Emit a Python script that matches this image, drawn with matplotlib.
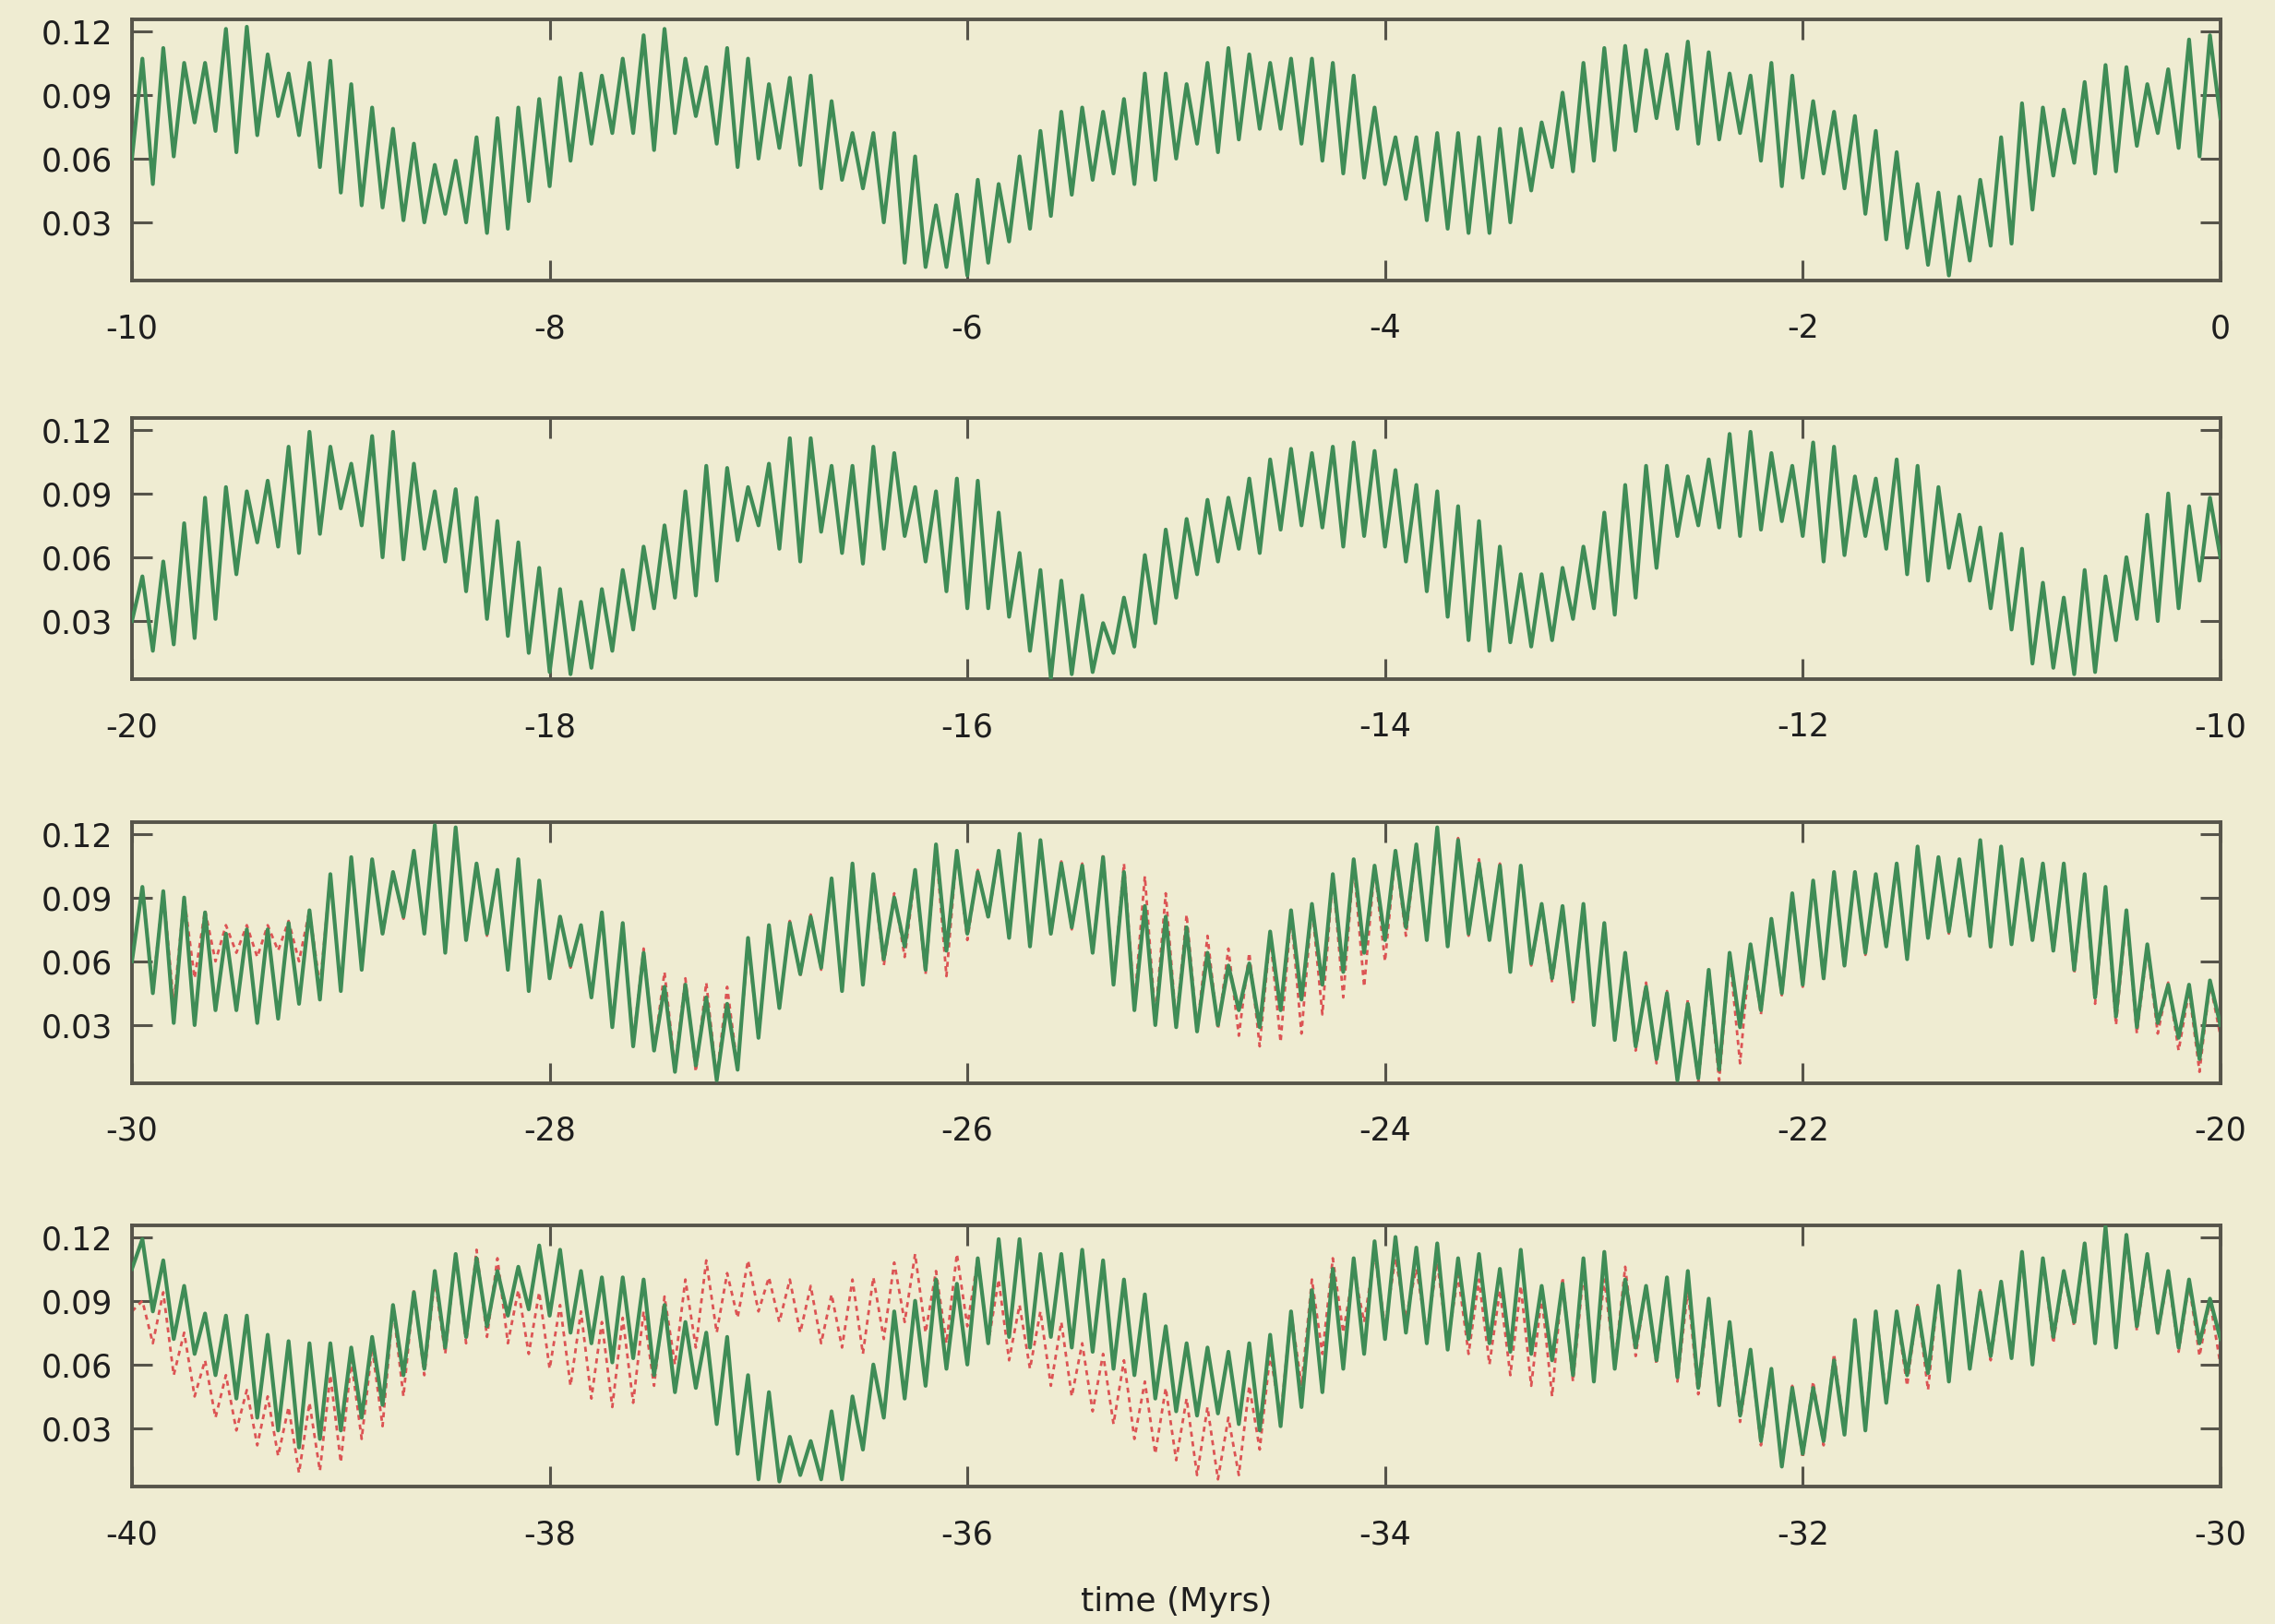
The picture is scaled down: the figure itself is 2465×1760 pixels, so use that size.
import numpy as np
import matplotlib
matplotlib.use("Agg")
import matplotlib.pyplot as plt
from matplotlib.ticker import MultipleLocator, FixedLocator, FormatStrFormatter

plt.rcParams["font.family"] = ["DejaVu Sans"]
plt.rcParams["axes.unicode_minus"] = False

# Each panel covers 10 Myr. Values are the successive maxima (every 0.1 Myr, offset 0.05)
# and minima (every 0.1 Myr) of the eccentricity curve.
panel_starts = [-10, -20, -30, -40]
x_ticks_step = 2
y_ticks = [0.03, 0.06, 0.09, 0.12]

# ---- panel 1: -10 .. 0 Myr ----
p1_peaks = [
    0.107, 0.112, 0.105, 0.105, 0.121, 0.122, 0.109, 0.100, 0.105, 0.106,
    0.095, 0.084, 0.074, 0.067, 0.057, 0.059, 0.070, 0.079, 0.084, 0.088,
    0.098, 0.100, 0.099, 0.107, 0.118, 0.121, 0.107, 0.103, 0.112, 0.107,
    0.095, 0.098, 0.099, 0.087, 0.072, 0.072, 0.072, 0.061, 0.038, 0.043,
    0.050, 0.048, 0.061, 0.073, 0.082, 0.084, 0.082, 0.088, 0.100, 0.100,
    0.095, 0.105, 0.112, 0.109, 0.105, 0.107, 0.107, 0.105, 0.099, 0.084,
    0.070, 0.070, 0.072, 0.072, 0.070, 0.074, 0.074, 0.077, 0.091, 0.105,
    0.112, 0.113, 0.111, 0.109, 0.115, 0.110, 0.100, 0.099, 0.105, 0.099,
    0.087, 0.082, 0.080, 0.073, 0.063, 0.048, 0.044, 0.042, 0.050, 0.070,
    0.086, 0.084, 0.083, 0.096, 0.104, 0.103, 0.095, 0.102, 0.116, 0.118,
]
p1_troughs = [
    0.060, 0.048, 0.061, 0.077, 0.073, 0.063, 0.071, 0.080, 0.071, 0.056,
    0.044, 0.038, 0.037, 0.031, 0.030, 0.034, 0.030, 0.025, 0.027, 0.040,
    0.047, 0.059, 0.067, 0.072, 0.072, 0.064, 0.072, 0.080, 0.067, 0.056,
    0.060, 0.065, 0.057, 0.046, 0.050, 0.046, 0.030, 0.011, 0.009, 0.009,
    0.005, 0.011, 0.021, 0.027, 0.033, 0.043, 0.050, 0.053, 0.048, 0.050,
    0.060, 0.067, 0.063, 0.069, 0.074, 0.074, 0.067, 0.059, 0.053, 0.051,
    0.048, 0.041, 0.031, 0.027, 0.025, 0.025, 0.030, 0.045, 0.056, 0.054,
    0.059, 0.064, 0.073, 0.079, 0.074, 0.067, 0.069, 0.072, 0.059, 0.047,
    0.051, 0.053, 0.046, 0.034, 0.022, 0.018, 0.010, 0.005, 0.012, 0.019,
    0.020, 0.036, 0.052, 0.058, 0.053, 0.054, 0.066, 0.072, 0.065, 0.061,
    0.079,
]

# ---- panel 2: -20 .. -10 Myr ----
p2_peaks = [
    0.051, 0.058, 0.076, 0.088, 0.093, 0.091, 0.096, 0.112, 0.119, 0.112,
    0.104, 0.117, 0.119, 0.104, 0.091, 0.092, 0.088, 0.077, 0.067, 0.055,
    0.045, 0.039, 0.045, 0.054, 0.065, 0.075, 0.091, 0.103, 0.102, 0.093,
    0.104, 0.116, 0.116,
    0.103, 0.103, 0.112, 0.109, 0.093, 0.091, 0.097, 0.096, 0.081, 0.062,
    0.054, 0.049, 0.042, 0.029, 0.041, 0.061, 0.073, 0.078, 0.087, 0.088,
    0.097, 0.106, 0.111, 0.109, 0.112, 0.114, 0.110, 0.101, 0.094, 0.091,
    0.084, 0.077, 0.065,
    0.052, 0.052, 0.055, 0.065, 0.081, 0.094, 0.103, 0.103, 0.098, 0.106,
    0.118, 0.119, 0.109, 0.103, 0.114, 0.112, 0.098, 0.097, 0.106, 0.103,
    0.093, 0.080, 0.074, 0.071, 0.064, 0.048, 0.041, 0.054, 0.051, 0.060,
    0.080, 0.090, 0.084, 0.088,
]
p2_troughs = [
    0.030, 0.016, 0.019, 0.022, 0.031, 0.052, 0.067, 0.065, 0.062, 0.071,
    0.083, 0.075, 0.060, 0.059, 0.064, 0.058, 0.044, 0.031, 0.023, 0.015,
    0.006, 0.005, 0.008, 0.016, 0.026, 0.036, 0.041, 0.042, 0.049, 0.068,
    0.075, 0.064, 0.058,
    0.072, 0.062, 0.057, 0.064, 0.070, 0.058, 0.044, 0.036, 0.036, 0.032,
    0.016, 0.003, 0.005, 0.006, 0.015, 0.018, 0.029, 0.041, 0.052, 0.058,
    0.064, 0.062, 0.073, 0.075, 0.074, 0.065, 0.070, 0.065, 0.058, 0.044,
    0.032, 0.021, 0.016, 0.020,
    0.018, 0.021, 0.031, 0.036, 0.033, 0.041, 0.055, 0.070, 0.075, 0.074,
    0.070, 0.073, 0.077, 0.070, 0.058, 0.061, 0.070, 0.064, 0.052, 0.049,
    0.055, 0.049, 0.036, 0.026, 0.010, 0.008, 0.005, 0.006, 0.021, 0.031,
    0.030, 0.036, 0.049, 0.060,
]

# ---- panel 3: -30 .. -20 Myr ----
p3_peaks = [
    0.095, 0.093, 0.090, 0.083, 0.073, 0.075, 0.075, 0.078, 0.084, 0.101,
    0.109, 0.108, 0.102, 0.112, 0.124, 0.123, 0.106, 0.103, 0.108, 0.098,
    0.081, 0.077, 0.083, 0.078, 0.064, 0.048, 0.049, 0.043, 0.040, 0.071,
    0.077, 0.078, 0.081, 0.099,
    0.106, 0.101, 0.090, 0.103, 0.115, 0.112, 0.102, 0.112, 0.120, 0.117,
    0.106, 0.105, 0.109, 0.102, 0.086, 0.081, 0.076, 0.064, 0.058, 0.059,
    0.074, 0.084, 0.087, 0.101, 0.108, 0.105, 0.112, 0.115, 0.123, 0.117,
    0.106, 0.105, 0.105,
    0.087, 0.086, 0.087, 0.078, 0.064, 0.048, 0.045, 0.040, 0.056, 0.064,
    0.068, 0.080, 0.092, 0.098, 0.102, 0.102, 0.101, 0.106, 0.114, 0.109,
    0.108, 0.117, 0.114, 0.108, 0.106, 0.106, 0.101, 0.095, 0.084, 0.068,
    0.049, 0.049, 0.051,
]
p3_troughs = [
    0.060, 0.045, 0.031, 0.030, 0.037, 0.037, 0.031, 0.033, 0.040, 0.042,
    0.046, 0.056, 0.073, 0.081, 0.073, 0.064, 0.070, 0.073, 0.056, 0.046,
    0.052, 0.058, 0.043, 0.029, 0.020, 0.018, 0.008, 0.011, 0.004, 0.009,
    0.024, 0.038, 0.054, 0.057,
    0.046, 0.049, 0.061, 0.067, 0.056, 0.065, 0.073, 0.081, 0.071, 0.067,
    0.073, 0.076, 0.064, 0.049, 0.037, 0.030, 0.029, 0.027, 0.030, 0.037,
    0.029, 0.037, 0.042, 0.049, 0.055, 0.064, 0.070, 0.076, 0.070, 0.067,
    0.073, 0.070, 0.055,
    0.059, 0.052, 0.042, 0.030, 0.023, 0.020, 0.014, 0.004, 0.005, 0.009,
    0.029, 0.037, 0.045, 0.049, 0.052, 0.058, 0.064, 0.067, 0.061, 0.071,
    0.074, 0.072, 0.067, 0.068, 0.070, 0.065, 0.056, 0.043, 0.034, 0.029,
    0.031, 0.024, 0.014, 0.030,
]
p3_red_peaks = [
    0.095, 0.093, 0.090, 0.084, 0.077, 0.077, 0.077, 0.079, 0.084, 0.100,
    0.109, 0.108, 0.102, 0.112, 0.123, 0.122, 0.106, 0.103, 0.107, 0.098,
    0.082, 0.077, 0.082, 0.078, 0.066, 0.055, 0.052, 0.050, 0.048, 0.068,
    0.077, 0.079, 0.082, 0.098,
    0.105, 0.100, 0.092, 0.101, 0.113, 0.112, 0.103, 0.111, 0.118, 0.117,
    0.107, 0.106, 0.110, 0.106, 0.100, 0.092, 0.082, 0.072, 0.066, 0.064,
    0.072, 0.082, 0.086, 0.100, 0.106, 0.104, 0.111, 0.114, 0.120, 0.118,
    0.108, 0.106, 0.104,
    0.086, 0.086, 0.086, 0.078, 0.064, 0.050, 0.046, 0.042, 0.054, 0.063,
    0.068, 0.079, 0.091, 0.097, 0.101, 0.102, 0.100, 0.105, 0.113, 0.109,
    0.107, 0.116, 0.113, 0.107, 0.105, 0.105, 0.100, 0.094, 0.082, 0.066,
    0.050, 0.046, 0.050,
]
p3_red_troughs = [
    0.060, 0.048, 0.040, 0.052, 0.060, 0.064, 0.062, 0.065, 0.060, 0.048,
    0.046, 0.056, 0.072, 0.080, 0.073, 0.064, 0.070, 0.072, 0.056, 0.047,
    0.052, 0.057, 0.044, 0.030, 0.022, 0.018, 0.010, 0.008, 0.005, 0.010,
    0.024, 0.038, 0.053, 0.056,
    0.046, 0.050, 0.058, 0.062, 0.054, 0.053, 0.070, 0.080, 0.071, 0.067,
    0.072, 0.075, 0.064, 0.050, 0.040, 0.033, 0.031, 0.028, 0.028, 0.025,
    0.020, 0.022, 0.026, 0.035, 0.043, 0.048, 0.060, 0.072, 0.070, 0.067,
    0.072, 0.070, 0.055,
    0.058, 0.050, 0.040, 0.030, 0.022, 0.018, 0.012, 0.004, 0.003, 0.004,
    0.012, 0.035, 0.044, 0.048, 0.051, 0.057, 0.063, 0.066, 0.061, 0.070,
    0.073, 0.071, 0.066, 0.068, 0.069, 0.064, 0.054, 0.040, 0.030, 0.026,
    0.026, 0.018, 0.008, 0.025,
]

# ---- panel 4: -40 .. -30 Myr ----
p4_peaks = [
    0.119, 0.109, 0.097, 0.084, 0.083, 0.083, 0.074, 0.071, 0.070, 0.070,
    0.068, 0.073, 0.088, 0.094, 0.104, 0.112, 0.110, 0.104, 0.106, 0.116,
    0.114, 0.104, 0.101, 0.101, 0.100, 0.088, 0.080, 0.075, 0.073, 0.055,
    0.047, 0.026, 0.024, 0.038,
    0.045, 0.060, 0.085, 0.090, 0.100, 0.098, 0.110, 0.119, 0.119, 0.112,
    0.112, 0.114, 0.109, 0.100, 0.093, 0.078, 0.070, 0.068, 0.066, 0.070,
    0.074, 0.085, 0.095, 0.105, 0.110, 0.118, 0.120, 0.115, 0.117, 0.110,
    0.112, 0.105, 0.114,
    0.097, 0.098, 0.110, 0.113, 0.100, 0.097, 0.101, 0.104, 0.091, 0.080,
    0.067, 0.058, 0.049, 0.049, 0.062, 0.081, 0.085, 0.085, 0.087, 0.097,
    0.104, 0.094, 0.099, 0.113, 0.110, 0.104, 0.117, 0.125, 0.121, 0.112,
    0.104, 0.100, 0.091,
]
p4_troughs = [
    0.105, 0.085, 0.072, 0.065, 0.055, 0.044, 0.035, 0.029, 0.021, 0.025,
    0.029, 0.035, 0.041, 0.055, 0.058, 0.068, 0.073, 0.078, 0.083, 0.086,
    0.083, 0.075, 0.070, 0.061, 0.063, 0.055, 0.047, 0.049, 0.032, 0.018,
    0.006, 0.005, 0.008, 0.006,
    0.006, 0.020, 0.035, 0.044, 0.050, 0.058, 0.060, 0.070, 0.073, 0.068,
    0.073, 0.068, 0.066, 0.058, 0.055, 0.044, 0.038, 0.036, 0.037, 0.032,
    0.029, 0.031, 0.040, 0.047, 0.058, 0.065, 0.072, 0.075, 0.070, 0.067,
    0.072, 0.070, 0.066,
    0.065, 0.062, 0.055, 0.052, 0.058, 0.068, 0.062, 0.054, 0.049, 0.041,
    0.036, 0.024, 0.012, 0.018, 0.024, 0.027, 0.029, 0.042, 0.055, 0.056,
    0.052, 0.058, 0.064, 0.063, 0.060, 0.073, 0.080, 0.070, 0.068, 0.078,
    0.075, 0.068, 0.070, 0.072,
]
p4_red_peaks = [
    0.090, 0.094, 0.075, 0.062, 0.055, 0.048, 0.045, 0.040, 0.042, 0.055,
    0.062, 0.068, 0.087, 0.095, 0.100, 0.112, 0.114, 0.110, 0.095, 0.094,
    0.088, 0.085, 0.080, 0.082, 0.085, 0.092, 0.100, 0.109, 0.103, 0.109,
    0.101, 0.100, 0.097, 0.093,
    0.100, 0.101, 0.108, 0.112, 0.104, 0.112, 0.110, 0.100, 0.088, 0.085,
    0.080, 0.070, 0.065, 0.062, 0.052, 0.049, 0.044, 0.040, 0.035, 0.050,
    0.065, 0.085, 0.100, 0.110, 0.105, 0.112, 0.110, 0.105, 0.108, 0.102,
    0.100, 0.095, 0.097,
    0.092, 0.101, 0.103, 0.100, 0.106, 0.097, 0.100, 0.095, 0.088, 0.078,
    0.066, 0.056, 0.050, 0.052, 0.065, 0.080, 0.086, 0.084, 0.088, 0.096,
    0.102, 0.095, 0.097, 0.110, 0.109, 0.103, 0.115, 0.122, 0.119, 0.110,
    0.102, 0.098, 0.090,
]
p4_red_troughs = [
    0.085, 0.070, 0.055, 0.045, 0.035, 0.029, 0.022, 0.017, 0.009, 0.010,
    0.014, 0.025, 0.031, 0.045, 0.055, 0.065, 0.070, 0.073, 0.070, 0.065,
    0.058, 0.050, 0.044, 0.040, 0.042, 0.050, 0.060, 0.068, 0.075, 0.082,
    0.085, 0.080, 0.075, 0.070,
    0.068, 0.065, 0.072, 0.080, 0.075, 0.070, 0.078, 0.070, 0.062, 0.058,
    0.050, 0.045, 0.038, 0.032, 0.025, 0.018, 0.015, 0.008, 0.006, 0.008,
    0.020, 0.035, 0.050, 0.065, 0.075, 0.080, 0.078, 0.082, 0.075, 0.070,
    0.065, 0.060, 0.055,
    0.050, 0.045, 0.052, 0.055, 0.060, 0.064, 0.060, 0.052, 0.046, 0.040,
    0.033, 0.022, 0.013, 0.016, 0.022, 0.028, 0.032, 0.045, 0.050, 0.048,
    0.052, 0.060, 0.062, 0.064, 0.062, 0.070, 0.078, 0.070, 0.068, 0.076,
    0.074, 0.066, 0.064, 0.060,
]

green_series = [(p1_peaks, p1_troughs), (p2_peaks, p2_troughs),
                (p3_peaks, p3_troughs), (p4_peaks, p4_troughs)]
red_series = [None, None, (p3_red_peaks, p3_red_troughs),
              (p4_red_peaks, p4_red_troughs)]


def extrema_curve(start, peaks, troughs):
    """Merge maxima and minima into one time-ordered polyline."""
    t_peak = start + 0.05 + 0.1 * np.arange(len(peaks))
    t_trough = start + 0.1 * np.arange(len(troughs))
    t = np.concatenate([t_trough, t_peak])
    y = np.concatenate([np.asarray(troughs), np.asarray(peaks)])
    order = np.argsort(t, kind="stable")
    return t[order], y[order]


BG = "#efecd2"
FRAME = "#56544a"
GREEN = "#3f8c56"
RED = "#dc5454"
TEXT = "#1e1e1e"

fig = plt.figure(figsize=(24.65, 17.6), dpi=100, facecolor=BG)

left, width, height = 0.058, 0.918, 0.161
bottoms = [0.8271, 0.5816, 0.3328, 0.0845]

axes = []
for i, start in enumerate(panel_starts):
    ax = fig.add_axes([left, bottoms[i], width, height], facecolor=BG)
    axes.append(ax)

    if red_series[i] is not None:
        tr, yr = extrema_curve(start, *red_series[i])
        ax.plot(tr, yr, color=RED, lw=2.0, linestyle=(0, (2.0, 1.8)),
                zorder=2)
    tg, yg = extrema_curve(start, *green_series[i])
    ax.plot(tg, yg, color=GREEN, lw=3.0, zorder=3)

    ax.set_xlim(start, start + 10)
    ax.set_ylim(0.0025, 0.1255)
    ax.xaxis.set_major_locator(MultipleLocator(x_ticks_step))
    ax.yaxis.set_major_locator(FixedLocator(y_ticks))
    ax.yaxis.set_major_formatter(FormatStrFormatter("%.2f"))

    for side in ("top", "bottom", "left", "right"):
        ax.spines[side].set_color(FRAME)
        ax.spines[side].set_linewidth(2.8)

    ax.tick_params(axis="both", which="major", direction="in", length=16,
                   width=2.2, color=FRAME, labelcolor=TEXT, labelsize=25,
                   top=True, right=True)
    ax.tick_params(axis="x", pad=25)
    ax.tick_params(axis="y", pad=15)

axes[-1].set_xlabel("time (Myrs)", fontsize=26, color=TEXT, labelpad=28)

fig.savefig("out.png", dpi=100, facecolor=BG)
